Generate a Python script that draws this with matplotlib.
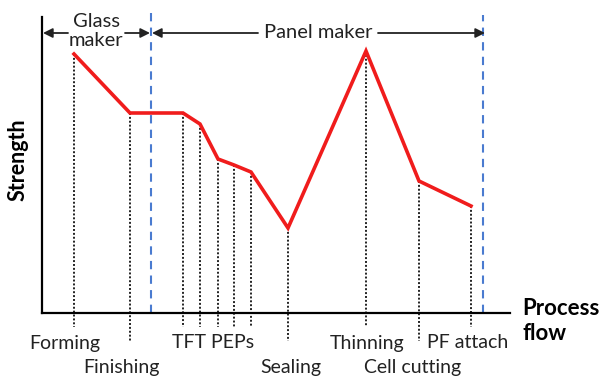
import matplotlib.pyplot as plt

plt.rcParams['font.family'] = ['Lato', 'DejaVu Sans']

# process steps (position along the flow) and relative strength
steps = ['Forming', 'Finishing', 'TFT1', 'TFT2', 'TFT3', 'TFT4', 'TFT5',
         'Sealing', 'Thinning', 'Cell cutting', 'PF attach']
step_x = [74, 130, 183, 200, 218, 234, 251, 288, 366, 419, 471]
strength = [259, 200, 200, 189, 154, 148, 141, 85, 262, 132, 107]
# steps whose dotted guide reaches the lower label row
long_guide = ['Finishing', 'Sealing', 'Cell cutting']

labels = ['Forming', 'Finishing', 'TFT PEPs', 'Sealing', 'Thinning', 'Cell cutting', 'PF attach']
label_x = [65, 121, 213, 291, 367, 413, 468]
label_row = [0, 1, 0, 1, 0, 1, 0]

border_x = [151, 483]

fig = plt.figure(figsize=(6, 3.79), dpi=100)
ax = fig.add_axes([42 / 600, (379 - 313) / 379, (510 - 42) / 600, (313 - 17) / 379])
ax.set_xlim(42, 510)
ax.set_ylim(0, 296)
for s in ['top', 'right']:
    ax.spines[s].set_visible(False)
for s in ['left', 'bottom']:
    ax.spines[s].set_linewidth(1.6)
    ax.spines[s].set_color('black')
ax.set_xticks([])
ax.set_yticks([])

# dotted guides
for name, x, y in zip(steps, step_x, strength):
    low = -28 if name in long_guide else -14
    ax.plot([x, x], [y, low], ls=(0, (1, 1)), color='#222222', lw=1.4, clip_on=False, zorder=2)

ax.plot(step_x, strength, color='#f01c1c', lw=2.6, zorder=3, solid_joinstyle='miter')

# maker borders
ax.plot([border_x[0]] * 2, [0, 303], ls=(0, (4, 3)), color='#4a7bd0', lw=1.5, clip_on=False)
ax.plot([border_x[1]] * 2, [0, 298], ls=(0, (4, 3)), color='#4a7bd0', lw=1.5, clip_on=False)

ya = 280
arrow = dict(arrowstyle='-|>', color='#222222', lw=1.3, mutation_scale=14, shrinkA=0, shrinkB=0)
ax.annotate('', xy=(43, ya), xytext=(68, ya), arrowprops=arrow, annotation_clip=False)
ax.annotate('', xy=(150, ya), xytext=(125, ya), arrowprops=arrow, annotation_clip=False)
ax.annotate('', xy=(152, ya), xytext=(258, ya), arrowprops=arrow, annotation_clip=False)
ax.annotate('', xy=(485, ya), xytext=(378, ya), arrowprops=arrow, annotation_clip=False)
ax.text(96, 282, 'Glass\nmaker', ha='center', va='center', fontsize=14.5,
        color='#222222', linespacing=1.2, clip_on=False)
ax.text(318, ya, 'Panel maker', ha='center', va='center', fontsize=14.5,
        color='#222222', clip_on=False)

for lab, x, row in zip(labels, label_x, label_row):
    ax.text(x, -30 - 25 * row, lab, ha='center', va='center', fontsize=14,
            color='#222222', clip_on=False)

ax.text(522, -8, 'Process\nflow', ha='left', va='center', fontsize=16, fontweight='bold',
        linespacing=1.25, clip_on=False)
fig.text(18 / 600, 1 - 160 / 379, 'Strength', rotation=90, ha='center', va='center',
         fontsize=15.5, fontweight='bold')

fig.savefig('out.png', dpi=100)
